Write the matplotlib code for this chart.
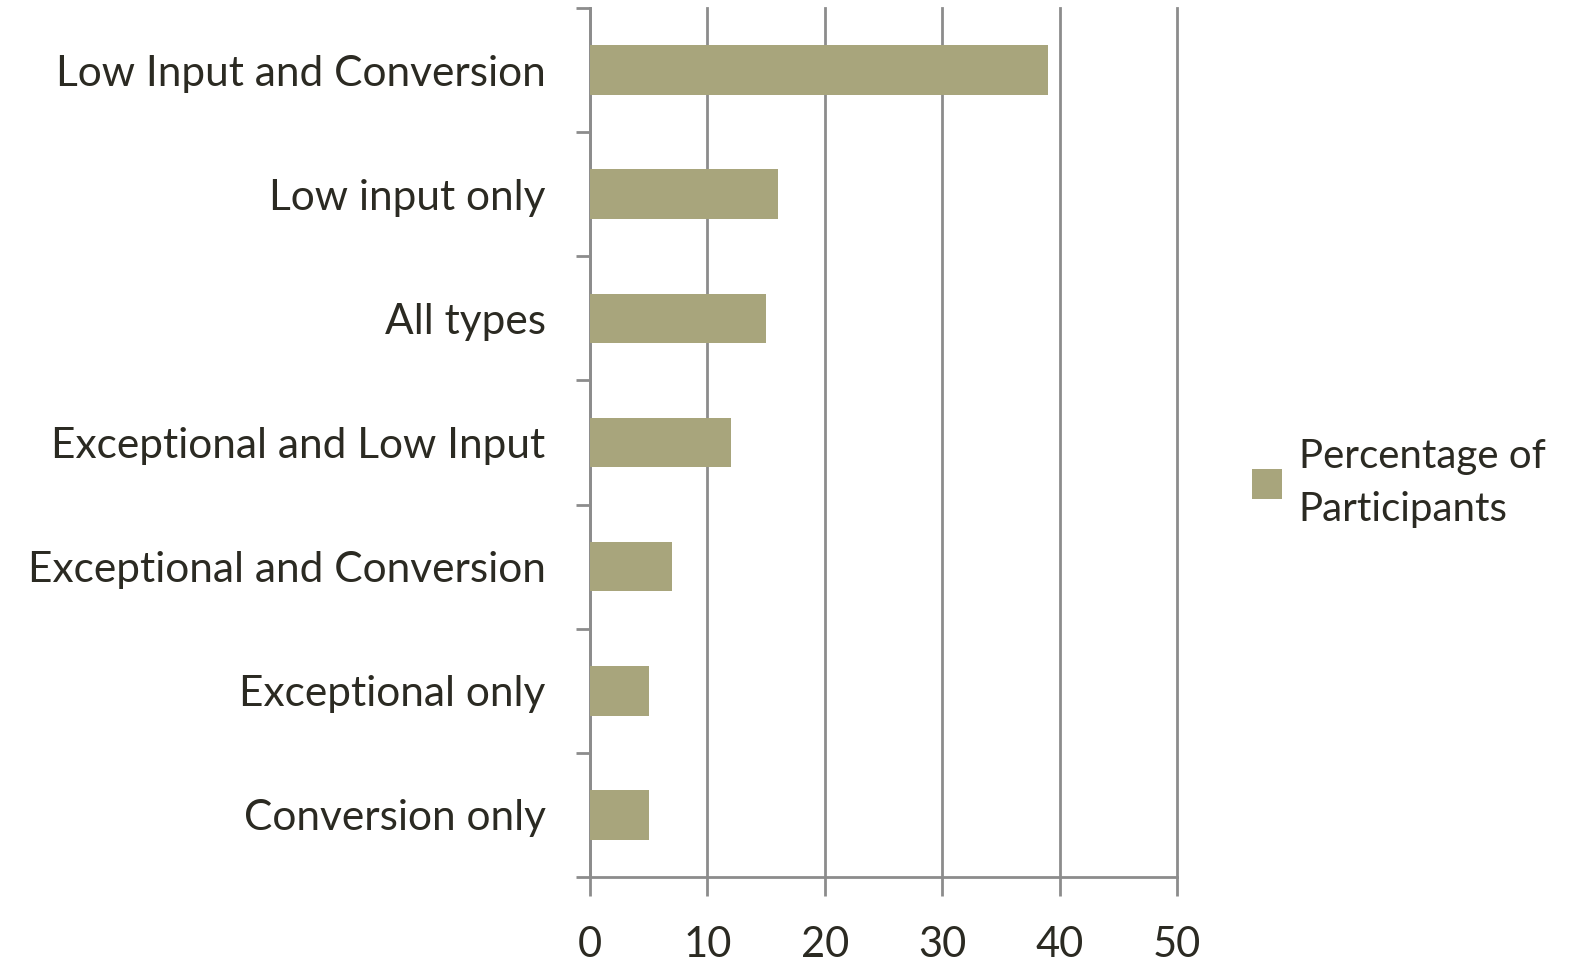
import matplotlib
matplotlib.use("Agg")
import matplotlib.pyplot as plt
import numpy as np

categories = ["Low Input and Conversion", "Low input only", "All types",
              "Exceptional and Low Input", "Exceptional and Conversion",
              "Exceptional only", "Conversion only"]
values = [39, 16, 15, 12, 7, 5, 5]
x_ticks = [0, 10, 20, 30, 40, 50]
series_name = "Percentage of\nParticipants"

bar_color = "#a8a57c"
axis_gray = "#8c8c8c"
text_color = "#2b2a22"

plt.rcParams["font.family"] = ["Lato", "DejaVu Sans"]

fig = plt.figure(figsize=(15.77, 9.63), dpi=100)
ax = fig.add_axes([590 / 1577, 1 - 877 / 963, 587 / 1577, 869 / 963])

y = np.arange(len(categories))
bars = ax.barh(y, values, height=0.4, color=bar_color, zorder=3,
               label=series_name)

ax.set_xlim(0, 50)
ax.set_ylim(len(categories) - 0.5, -0.5)

# category boundaries get the tick marks, labels sit at the bar centres
ax.set_yticks(np.arange(-0.5, len(categories)), labels=[])
ax.set_yticks(y, labels=categories, minor=True)
ax.tick_params(axis="y", which="major", length=10, width=2,
               color=axis_gray, direction="out")
ax.tick_params(axis="y", which="minor", length=0, pad=32,
               labelsize=30.5, labelcolor=text_color)

ax.set_xticks(x_ticks)
ax.tick_params(axis="x", length=14, width=2, color=axis_gray, pad=21,
               labelsize=30, labelcolor=text_color)

ax.grid(axis="x", color=axis_gray, linewidth=2, zorder=0)
for gl in ax.get_xgridlines():
    gl.set_clip_on(False)
for side in ("top", "right"):
    ax.spines[side].set_visible(False)
for side in ("left", "bottom"):
    ax.spines[side].set_color(axis_gray)
    ax.spines[side].set_linewidth(2)

leg = fig.legend(handles=[bars], labels=[series_name], loc="center left",
                 bbox_to_anchor=(1216 / 1577, 1 - 483 / 963), frameon=False,
                 fontsize=29, labelcolor=text_color, handlelength=0.75,
                 handleheight=0.75, handletextpad=0.4)
for t in leg.get_texts():
    t.set_linespacing(1.55)

fig.savefig("out.png", dpi=100, facecolor="white")
